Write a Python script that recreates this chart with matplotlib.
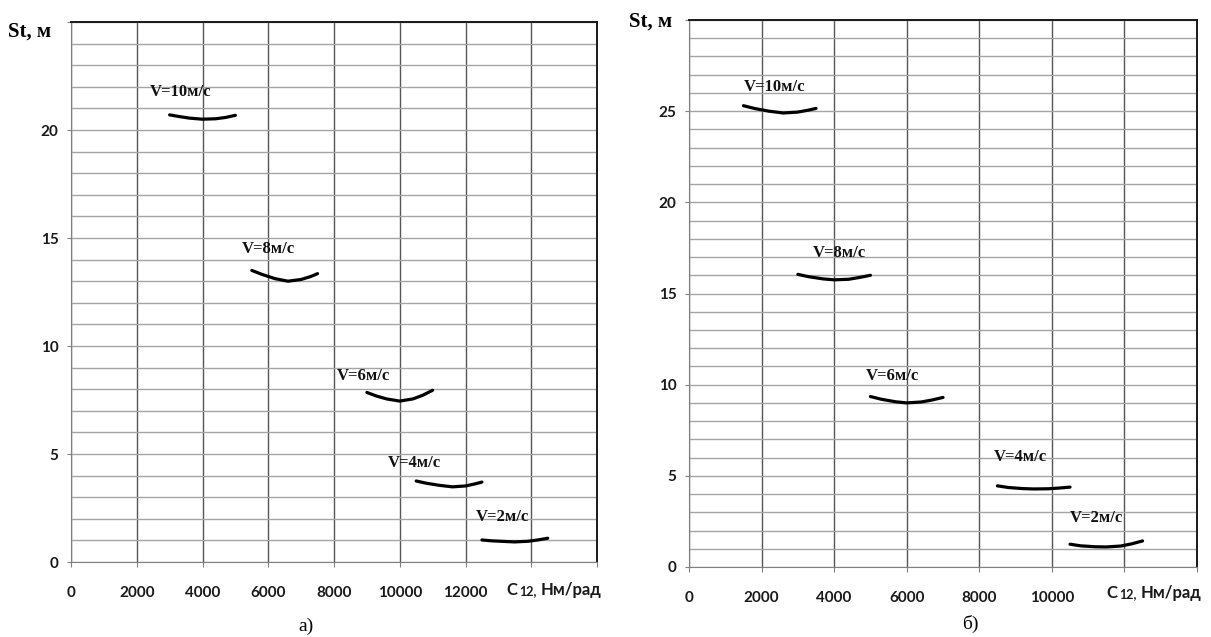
import matplotlib
matplotlib.use("Agg")
import matplotlib.pyplot as plt
from matplotlib.ticker import MultipleLocator

W, H = 1211, 637

# ---------------- data: panel а) ----------------
a_x10 = [3000, 3300, 3600, 4000, 4400, 4700, 5000]
a_y10 = [20.70, 20.62, 20.55, 20.50, 20.52, 20.58, 20.68]
a_x8 = [5500, 5800, 6200, 6600, 7000, 7300, 7500]
a_y8 = [13.50, 13.32, 13.12, 13.00, 13.08, 13.22, 13.35]
a_x6 = [9000, 9300, 9600, 10000, 10400, 10700, 11000]
a_y6 = [7.85, 7.68, 7.55, 7.45, 7.55, 7.72, 7.95]
a_x4 = [10500, 10800, 11200, 11600, 12000, 12300, 12500]
a_y4 = [3.75, 3.65, 3.55, 3.48, 3.52, 3.62, 3.70]
a_x2 = [12500, 12800, 13200, 13500, 13900, 14200, 14500]
a_y2 = [1.02, 0.98, 0.95, 0.93, 0.96, 1.02, 1.10]

# ---------------- data: panel б) ----------------
b_x10 = [1500, 1800, 2200, 2600, 3000, 3300, 3500]
b_y10 = [25.30, 25.15, 25.00, 24.90, 24.95, 25.06, 25.15]
b_x8 = [3000, 3300, 3700, 4000, 4400, 4700, 5000]
b_y8 = [16.05, 15.92, 15.80, 15.75, 15.78, 15.88, 16.00]
b_x6 = [5000, 5300, 5700, 6000, 6400, 6700, 7000]
b_y6 = [9.35, 9.20, 9.06, 9.00, 9.05, 9.16, 9.30]
b_x4 = [8500, 8800, 9200, 9500, 9900, 10200, 10500]
b_y4 = [4.45, 4.36, 4.30, 4.28, 4.29, 4.33, 4.38]
b_x2 = [10500, 10800, 11200, 11500, 11900, 12200, 12500]
b_y2 = [1.25, 1.16, 1.11, 1.10, 1.15, 1.27, 1.43]

speed_labels = ["V=10м/с", "V=8м/с", "V=6м/с", "V=4м/с", "V=2м/с"]
a_xticklabels = ["0", "2000", "4000", "6000", "8000", "10000", "12000", "", ""]
b_xticklabels = ["0", "2000", "4000", "6000", "8000", "10000", "", ""]
a_yticklabels = ["0", "5", "10", "15", "20", ""]
b_yticklabels = ["0", "5", "10", "15", "20", "25", ""]
y_label = "St, м"
x_label_parts = ["C", "12,", "Нм/рад"]
panel_a = "а)"
panel_b = "б)"

# label anchor positions (data coords, left / center)
a_label_pos = [(2400, 21.75), (5200, 14.5), (8100, 8.6), (9650, 4.6), (12300, 2.1)]
b_label_pos = [(1500, 26.3), (3400, 17.2), (4870, 10.45), (8400, 6.05), (10500, 2.7)]

fig = plt.figure(figsize=(W / 100, H / 100), dpi=100)
fig.patch.set_facecolor("white")

SANS = "Lato"
SERIF = "Liberation Serif"


def setup(ax, xmax, ymax, xlabels, ylabels):
    ax.set_xlim(0, xmax)
    ax.set_ylim(0, ymax)
    ax.yaxis.set_minor_locator(MultipleLocator(1))
    ax.set_xticks(range(0, xmax + 1, 2000))
    ax.set_xticklabels(xlabels)
    ax.set_yticks(range(0, ymax + 1, 5))
    ax.set_yticklabels(ylabels)
    ax.grid(True, axis="y", which="both", color="#a4a4a4", lw=1.0)
    ax.grid(True, axis="x", which="major", color="#555555", lw=1.0)
    ax.set_axisbelow(True)
    ax.tick_params(axis="x", which="major", direction="out", length=3.5,
                   color="#808080", pad=14)
    ax.tick_params(axis="y", which="major", direction="out", length=3,
                   color="#808080", pad=6)
    ax.tick_params(axis="y", which="minor", length=0)
    for lab in ax.get_xticklabels() + ax.get_yticklabels():
        lab.set_fontfamily(SANS)
        lab.set_fontweight("bold")
        lab.set_fontsize(11)
        lab.set_color("#1a1a1a")
    ax.spines["left"].set_color("#808080")
    ax.spines["bottom"].set_color("#808080")
    ax.spines["top"].set_color("#1a1a1a")
    ax.spines["right"].set_color("#1a1a1a")
    ax.spines["top"].set_linewidth(1.4)
    ax.spines["right"].set_linewidth(1.4)


ax1 = fig.add_axes([71 / W, (H - 562) / H, (597 - 71) / W, (562 - 22) / H])
setup(ax1, 16000, 25, a_xticklabels, a_yticklabels)
for xs, ys in [(a_x10, a_y10), (a_x8, a_y8), (a_x6, a_y6), (a_x4, a_y4), (a_x2, a_y2)]:
    ax1.plot(xs, ys, color="black", lw=2.3, solid_capstyle="round", solid_joinstyle="round")
for lab, (lx, ly) in zip(speed_labels, a_label_pos):
    ax1.text(lx, ly, lab, family=SERIF, weight="bold", fontsize=12,
             ha="left", va="center", color="#111111")

ax2 = fig.add_axes([689 / W, (H - 567) / H, (1197 - 689) / W, (567 - 20) / H])
setup(ax2, 14000, 30, b_xticklabels, b_yticklabels)
for xs, ys in [(b_x10, b_y10), (b_x8, b_y8), (b_x6, b_y6), (b_x4, b_y4), (b_x2, b_y2)]:
    ax2.plot(xs, ys, color="black", lw=2.3, solid_capstyle="round", solid_joinstyle="round")
for lab, (lx, ly) in zip(speed_labels, b_label_pos):
    ax2.text(lx, ly, lab, family=SERIF, weight="bold", fontsize=12,
             ha="left", va="center", color="#111111")


def ftext(px, py, s, **kw):
    return fig.text(px / W, 1 - py / H, s, **kw)


# y-axis titles
ftext(8, 32, y_label, family=SERIF, weight="bold", fontsize=15, va="center", ha="left")
ftext(629, 22, y_label, family=SERIF, weight="bold", fontsize=15, va="center", ha="left")

# x-axis titles "C 12, Нм/рад" placed piece by piece
fig.canvas.draw()
renderer = fig.canvas.get_renderer()
sizes = [12, 9, 12]
gaps = [2.5, 3.5, 0]
for (cx, cy) in [(506, 595), (1106, 598)]:
    x = cx
    for part, fs, gap in zip(x_label_parts, sizes, gaps):
        t = ftext(x, cy, part, family=SANS, weight="bold", fontsize=fs,
                  va="baseline", ha="left", color="#1a1a1a")
        bb = t.get_window_extent(renderer=renderer)
        x = x + bb.width + gap

# panel captions
ftext(306, 626, panel_a, family=SERIF, fontsize=14, va="center", ha="center")
ftext(970, 624, panel_b, family=SERIF, fontsize=14, va="center", ha="center")

fig.savefig("out.png", dpi=100, facecolor="white")
